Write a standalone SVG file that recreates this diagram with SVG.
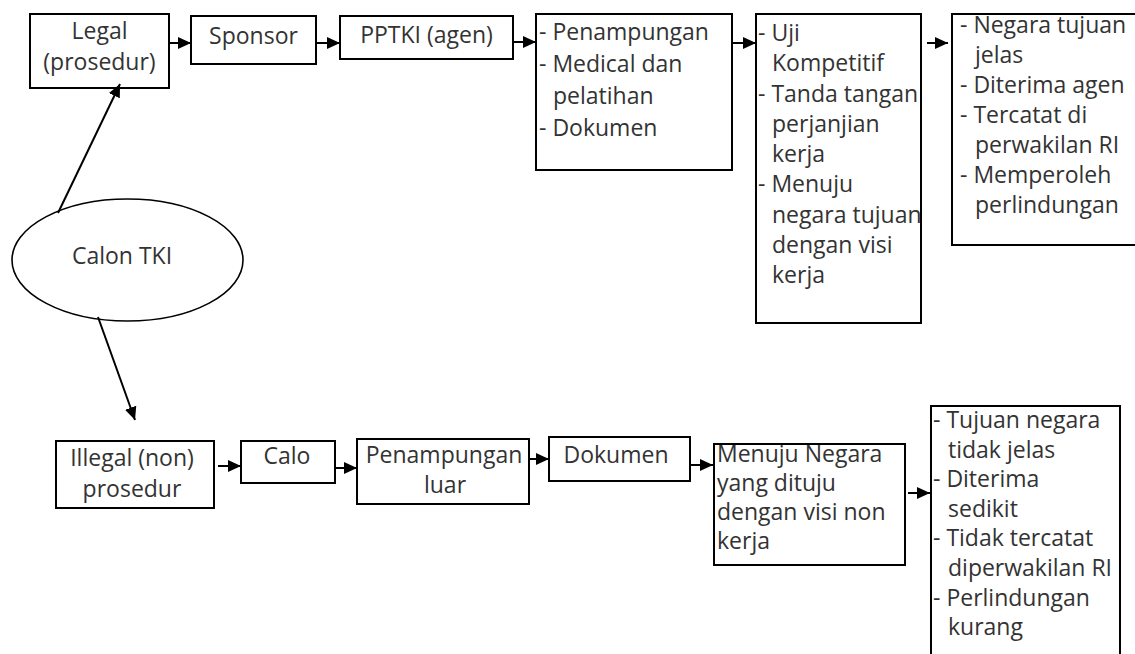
<svg xmlns="http://www.w3.org/2000/svg" width="1135" height="654" viewBox="0 0 1135 654">
<style>
.box{fill:#fff;stroke:#000;stroke-width:2}
.ell{fill:#fff;stroke:#000;stroke-width:1.6}
text{font-family:"Open Sans","Noto Sans","DejaVu Sans",sans-serif;font-size:23px;fill:#333}
.c{text-anchor:middle}
.conn line{stroke:#000;stroke-width:2;marker-end:url(#ah)}
</style>
<defs>
<marker id="ah" markerUnits="userSpaceOnUse" markerWidth="13" markerHeight="12" refX="13" refY="6" orient="auto">
<path d="M0,0 L13,6 L0,12 Z" fill="#000"/>
</marker>
</defs>
<rect width="1135" height="654" fill="#fff"/>

<g id="calon">
<ellipse class="ell" cx="127.5" cy="260" rx="115.5" ry="61"/>
<text class="c" x="122" y="264">Calon TKI</text>
</g>

<g id="legal">
<rect class="box" x="30" y="14" width="139" height="74"/>
<text class="c" x="99.5" y="39">Legal</text>
<text class="c" x="99.5" y="70">(prosedur)</text>
</g>
<g id="sponsor">
<rect class="box" x="191" y="16" width="125" height="48"/>
<text class="c" x="253.5" y="44">Sponsor</text>
</g>
<g id="pptki">
<rect class="box" x="340" y="16" width="173" height="43"/>
<text class="c" x="426.5" y="43">PPTKI (agen)</text>
</g>
<g id="penampungan">
<rect class="box" x="536" y="14" width="196" height="156"/>
<text x="539" y="40">- Penampungan</text>
<text x="539" y="72">- Medical dan</text>
<text x="553" y="104">pelatihan</text>
<text x="539" y="136">- Dokumen</text>
</g>
<g id="uji">
<rect class="box" x="756" y="14" width="165" height="309"/>
<text x="758" y="41">- Uji</text>
<text x="772" y="71">Kompetitif</text>
<text x="758" y="101.5">- Tanda tangan</text>
<text x="772" y="132">perjanjian</text>
<text x="772" y="162">kerja</text>
<text x="758" y="192">- Menuju</text>
<text x="772" y="222.5">negara tujuan</text>
<text x="772" y="253">dengan visi</text>
<text x="772" y="283">kerja</text>
</g>
<g id="negara">
<rect class="box" x="952" y="14" width="195" height="231"/>
<text x="960" y="33">- Negara tujuan</text>
<text x="975" y="63">jelas</text>
<text x="960" y="93">- Diterima agen</text>
<text x="960" y="123">- Tercatat di</text>
<text x="975" y="153">perwakilan RI</text>
<text x="960" y="183">- Memperoleh</text>
<text x="975" y="213">perlindungan</text>
</g>

<g id="illegal">
<rect class="box" x="56" y="441" width="158" height="67"/>
<text class="c" x="132" y="466">Illegal (non)</text>
<text class="c" x="132" y="497">prosedur</text>
</g>
<g id="calo">
<rect class="box" x="241" y="441" width="94" height="42"/>
<text class="c" x="287" y="464">Calo</text>
</g>
<g id="penampungan-luar">
<rect class="box" x="357" y="439" width="172" height="65"/>
<text class="c" x="444" y="463">Penampungan</text>
<text class="c" x="445" y="493">luar</text>
</g>
<g id="dokumen">
<rect class="box" x="549" y="437" width="141" height="44"/>
<text class="c" x="616" y="463">Dokumen</text>
</g>
<g id="menuju">
<rect class="box" x="714" y="444" width="191" height="121"/>
<text x="717" y="462">Menuju Negara</text>
<text x="717" y="491">yang dituju</text>
<text x="717" y="520">dengan visi non</text>
<text x="717" y="549">kerja</text>
</g>
<g id="tujuan">
<rect class="box" x="931" y="406" width="189" height="260"/>
<text x="933" y="428">- Tujuan negara</text>
<text x="948" y="457.6">tidak jelas</text>
<text x="933" y="487.2">- Diterima</text>
<text x="948" y="516.8">sedikit</text>
<text x="933" y="546.4">- Tidak tercatat</text>
<text x="948" y="576">diperwakilan RI</text>
<text x="933" y="605.6">- Perlindungan</text>
<text x="948" y="635.2">kurang</text>
</g>

<g id="connectors" class="conn">
<line x1="58" y1="213" x2="120" y2="84"/>
<line x1="98" y1="317" x2="135" y2="420"/>
<line x1="169" y1="43" x2="191" y2="43"/>
<line x1="316" y1="43" x2="340" y2="43"/>
<line x1="513" y1="42" x2="536" y2="42"/>
<line x1="732" y1="43" x2="756" y2="43"/>
<line x1="927" y1="43" x2="948" y2="43"/>
<line x1="218" y1="466" x2="241" y2="466"/>
<line x1="335" y1="468" x2="357" y2="468"/>
<line x1="529" y1="459" x2="549" y2="459"/>
<line x1="690" y1="465" x2="713" y2="465"/>
<line x1="908" y1="493" x2="930" y2="493"/>
</g>
</svg>
